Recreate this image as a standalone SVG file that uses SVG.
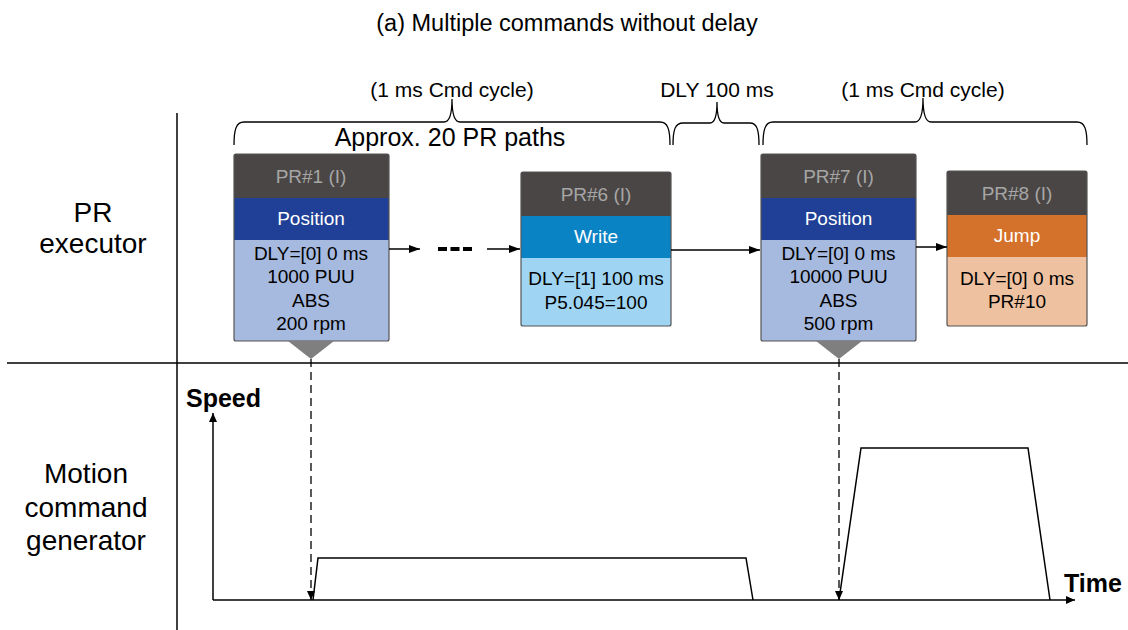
<svg xmlns="http://www.w3.org/2000/svg" width="1128" height="630" viewBox="0 0 1128 630">
<defs>
<marker id="ah" viewBox="0 0 11 8" refX="11" refY="4" markerWidth="11" markerHeight="8" markerUnits="userSpaceOnUse" orient="auto"><path d="M0,0 L11,4 L0,8 Z" fill="#000"/></marker>
<marker id="ahs" viewBox="0 0 9 10" refX="9" refY="5" markerWidth="9" markerHeight="10" markerUnits="userSpaceOnUse" orient="auto"><path d="M0,1 L9,5 L0,9 Z" fill="#000"/></marker>
</defs>
<style>
text{font-family:"Liberation Sans",Arial,sans-serif;fill:#000}
.c{text-anchor:middle}
.hd{fill:#4a4645}
.ht{fill:#a6a6a6;font-size:19px}
.bt{fill:#fff;font-size:19px}
.body{font-size:19px}
.frame{fill:none;stroke:#555;stroke-width:1.2}
.ln{stroke:#000;stroke-width:1.5;fill:none}
.brace{stroke:#000;stroke-width:1.3;fill:none}
.dash{stroke:#000;stroke-width:1.3;stroke-dasharray:8,5;fill:none}
.tri{fill:#7f7f7f}
.lbl{font-size:28px}
.ax{font-size:25px;font-weight:bold}
</style>
<text x="567" y="31" class="c" font-size="23.5">(a) Multiple commands without delay</text>
<line x1="177" y1="113" x2="177" y2="630" class="ln" stroke-width="1.3"/>
<line x1="7" y1="363" x2="1128" y2="363" class="ln" stroke-width="1.3"/>
<g id="lane-labels">
<text x="93" y="222" class="c lbl">PR</text>
<text x="93" y="253" class="c lbl">executor</text>
<text x="86" y="483" class="c lbl">Motion</text>
<text x="86" y="517" class="c lbl">command</text>
<text x="86" y="550" class="c lbl">generator</text>
</g>
<g id="braces">
<text x="452" y="97" class="c" font-size="21">(1 ms Cmd cycle)</text>
<text x="717" y="97" class="c" font-size="21">DLY 100 ms</text>
<text x="923" y="97" class="c" font-size="21">(1 ms Cmd cycle)</text>
<text x="450" y="146" class="c" font-size="25">Approx. 20 PR paths</text>
<path class="brace" d="M234,145 C234,130 236,122 244,122 L444,122 C449,122 452,115 452,99 C452,115 455,122 460,122 L660,122 C668,122 670,130 670,145"/>
<path class="brace" stroke-width="2.6" d="M673,145 C673,130 675,123 683,123 L710,123 C714,123 717,117 717,102 C717,117 720,123 724,123 L750,123 C757,123 759,130 759,145"/>
<path class="brace" d="M763,145 C763,130 765,122 773,122 L915,122 C920,122 923,115 923,98 C923,115 926,122 931,122 L1077,122 C1085,122 1087,130 1087,145"/>
</g>
<g id="pr1">
<rect x="234" y="154" width="155" height="44" class="hd"/>
<rect x="234" y="198" width="155" height="42" fill="#1f4096"/>
<rect x="234" y="240" width="155" height="101" fill="#a6b9de"/>
<rect x="234" y="154" width="155" height="187" rx="2" class="frame"/>
<path d="M288,341 L334,341 L311,359 Z" class="tri"/>
<text x="311" y="183" class="c ht">PR#1 (I)</text>
<text x="311" y="225" class="c bt">Position</text>
<text x="311" y="260" class="c body">DLY=[0] 0 ms</text>
<text x="311" y="283" class="c body">1000 PUU</text>
<text x="311" y="307" class="c body">ABS</text>
<text x="311" y="330" class="c body">200 rpm</text>
</g>
<g id="pr6">
<rect x="521" y="172" width="150" height="44" class="hd"/>
<rect x="521" y="216" width="150" height="42" fill="#0a83c5"/>
<rect x="521" y="258" width="150" height="68" fill="#9fd5f3"/>
<rect x="521" y="172" width="150" height="154" rx="2" class="frame"/>
<text x="596" y="201" class="c ht">PR#6 (I)</text>
<text x="596" y="243" class="c bt">Write</text>
<text x="596" y="285" class="c body">DLY=[1] 100 ms</text>
<text x="596" y="309" class="c body">P5.045=100</text>
</g>
<g id="pr7">
<rect x="761" y="154" width="155" height="44" class="hd"/>
<rect x="761" y="198" width="155" height="42" fill="#1f4096"/>
<rect x="761" y="240" width="155" height="101" fill="#a6b9de"/>
<rect x="761" y="154" width="155" height="187" rx="2" class="frame"/>
<path d="M816,341 L862,341 L839,359 Z" class="tri"/>
<text x="838.5" y="183" class="c ht">PR#7 (I)</text>
<text x="838.5" y="225" class="c bt">Position</text>
<text x="838.5" y="260" class="c body">DLY=[0] 0 ms</text>
<text x="838.5" y="283" class="c body">10000 PUU</text>
<text x="838.5" y="307" class="c body">ABS</text>
<text x="838.5" y="330" class="c body">500 rpm</text>
</g>
<g id="pr8">
<rect x="947" y="171" width="140" height="44" class="hd"/>
<rect x="947" y="215" width="140" height="42" fill="#d4712a"/>
<rect x="947" y="257" width="140" height="69" fill="#eec1a0"/>
<rect x="947" y="171" width="140" height="155" rx="2" class="frame"/>
<text x="1017" y="200" class="c ht">PR#8 (I)</text>
<text x="1017" y="242" class="c bt">Jump</text>
<text x="1017" y="285" class="c body">DLY=[0] 0 ms</text>
<text x="1017" y="308" class="c body">PR#10</text>
</g>
<g id="connectors">
<line x1="389" y1="249" x2="420" y2="249" class="ln" marker-end="url(#ah)"/>
<line x1="438" y1="249" x2="472" y2="249" stroke="#000" stroke-width="4" stroke-dasharray="9,3.5"/>
<line x1="487" y1="249" x2="520" y2="249" class="ln" marker-end="url(#ah)"/>
<line x1="671" y1="250" x2="760" y2="250" class="ln" marker-end="url(#ah)"/>
<line x1="916" y1="247" x2="947" y2="247" class="ln" marker-end="url(#ah)"/>
<line x1="311" y1="359" x2="311" y2="600" class="dash" marker-end="url(#ahs)"/>
<line x1="839" y1="359" x2="839" y2="600" class="dash" marker-end="url(#ahs)"/>
</g>
<g id="chart">
<line x1="213" y1="600" x2="213" y2="413" class="ln" stroke-width="2" marker-end="url(#ahs)"/>
<line x1="213" y1="600" x2="1075" y2="600" class="ln" stroke-width="2" marker-end="url(#ahs)"/>
<text x="186" y="407" class="ax">Speed</text>
<text x="1064" y="592" class="ax">Time</text>
<polyline points="313,600 318,558 746,558 753,600" class="ln" stroke-width="2"/>
<polyline points="839,600 861,448 1028,448 1050,600" class="ln" stroke-width="2"/>
</g>
</svg>
